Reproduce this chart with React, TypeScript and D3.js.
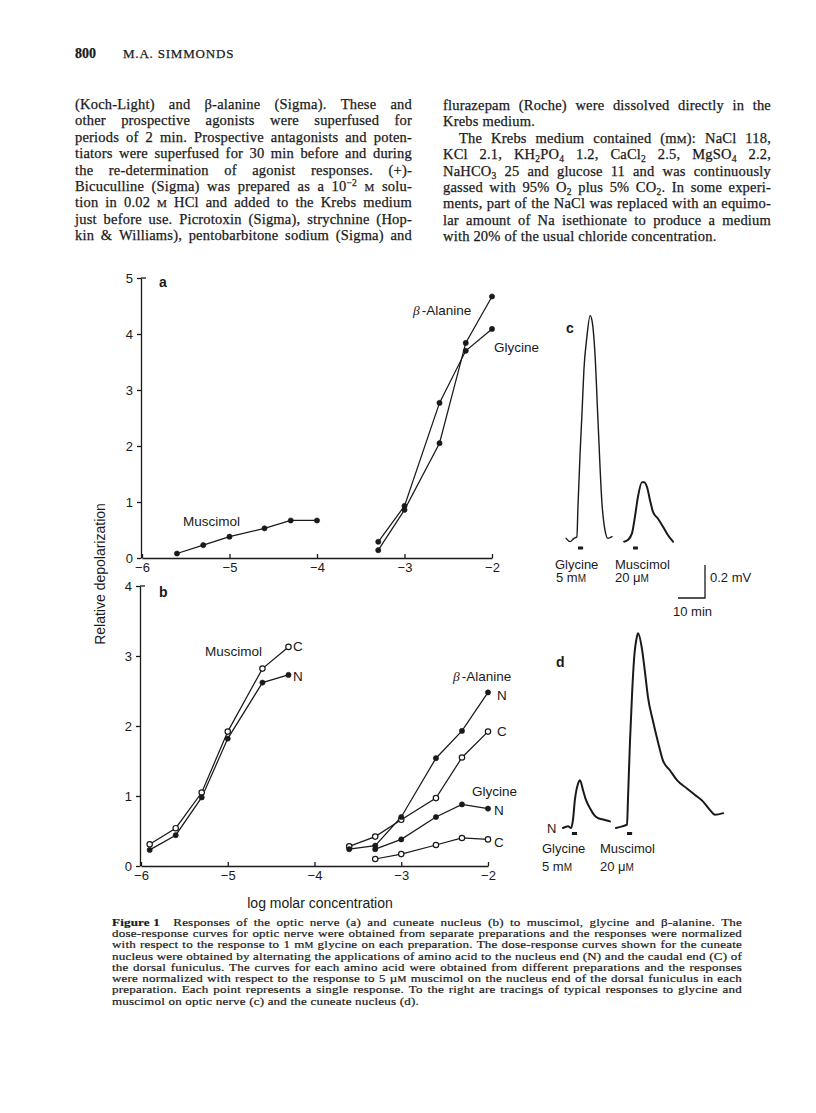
import React, { useRef, useEffect } from 'react';
import * as d3 from 'd3';

const SERIF = '"Liberation Serif", "Times New Roman", serif';
const SANS = '"Liberation Sans", Arial, sans-serif';
const INK = '#1a1a1a';

// ---------- page text ----------
const HEADER_PAGE = '800';
const HEADER_AUTHOR = 'M.A. SIMMONDS';

// markup: _{..} subscript, ^{..} superscript, ~{..} small caps, *{..} bold
const LEFT_LINES = [
  '(Koch-Light) and β-alanine (Sigma). These and',
  'other prospective agonists were superfused for',
  'periods of 2 min. Prospective antagonists and poten-',
  'tiators were superfused for 30 min before and during',
  'the re-determination of agonist responses. (+)-',
  'Bicuculline (Sigma) was prepared as a 10^{−2} ~{M} solu-',
  'tion in 0.02 ~{M} HCl and added to the Krebs medium',
  'just before use. Picrotoxin (Sigma), strychnine (Hop-',
  'kin & Williams), pentobarbitone sodium (Sigma) and',
];

const RIGHT_LINES = [
  'flurazepam (Roche) were dissolved directly in the',
  'Krebs medium.',
  'The Krebs medium contained (m~{M}): NaCl 118,',
  'KCl 2.1, KH_{2}PO_{4} 1.2, CaCl_{2} 2.5, MgSO_{4} 2.2,',
  'NaHCO_{3} 25 and glucose 11 and was continuously',
  'gassed with 95% O_{2} plus 5% CO_{2}. In some experi-',
  'ments, part of the NaCl was replaced with an equimo-',
  'lar amount of Na isethionate to produce a medium',
  'with 20% of the usual chloride concentration.',
];
const RIGHT_RAGGED = [1, 8];
const RIGHT_INDENT: Record<number, number> = { 2: 16 };

const CAPTION_LINES = [
  '*{Figure 1}\u2003Responses of the optic nerve (a) and cuneate nucleus (b) to muscimol, glycine and β-alanine. The',
  'dose-response curves for optic nerve were obtained from separate preparations and the responses were normalized',
  'with respect to the response to 1 m~{M} glycine on each preparation. The dose-response curves shown for the cuneate',
  'nucleus were obtained by alternating the applications of amino acid to the nucleus end (N) and the caudal end (C) of',
  'the dorsal funiculus. The curves for each amino acid were obtained from different preparations and the responses',
  'were normalized with respect to the response to 5 µ~{M} muscimol on the nucleus end of the dorsal funiculus in each',
  'preparation. Each point represents a single response. To the right are tracings of typical responses to glycine and',
  'muscimol on optic nerve (c) and the cuneate nucleus (d).',
];
const CAPTION_RAGGED = [7];

// ---------- panel a: optic nerve (log molar conc. vs relative depolarization) ----------
const A_MUSC_X = [-5.6, -5.3, -5.0, -4.6, -4.3, -4.0];
const A_MUSC_Y = [0.08, 0.23, 0.38, 0.53, 0.67, 0.67];
const A_AMINO_X = [-3.3, -3.0, -2.6, -2.3, -2.0];
const A_GLY_Y = [0.29, 0.93, 2.77, 3.70, 4.09];
const A_BALA_Y = [0.14, 0.86, 2.05, 3.84, 4.67];

// ---------- panel b: cuneate nucleus, N = nucleus end (filled), C = caudal end (open) ----------
const B_MUSC_X = [-5.9, -5.6, -5.3, -5.0, -4.6, -4.3];
const B_MUSC_N = [0.23, 0.44, 0.98, 1.82, 2.62, 2.73];
const B_MUSC_C = [0.31, 0.54, 1.05, 1.92, 2.82, 3.13];
const B_BALA_X = [-3.6, -3.3, -3.0, -2.6, -2.3, -2.0];
const B_BALA_N = [0.24, 0.29, 0.70, 1.54, 1.93, 2.48];
const B_BALA_C = [0.28, 0.42, 0.66, 0.97, 1.55, 1.92];
const B_GLY_X = [-3.3, -3.0, -2.6, -2.3, -2.0];
const B_GLY_N = [0.24, 0.38, 0.70, 0.88, 0.82];
const B_GLY_C = [0.10, 0.17, 0.30, 0.40, 0.38];

const A_TICKS_Y = [0, 1, 2, 3, 4, 5];
const B_TICKS_Y = [0, 1, 2, 3, 4];
const TICKS_X = [-6, -5, -4, -3, -2];

// ---------- panels c, d: recorder tracings [min, mV] ----------
const C_GLY: [number, number][] = [
  [0.4, 0.01], [1.9, -0.01], [3.3, 0.01], [4.4, 0.02], [4.8, 0.2], [5.6, 0.53], [6.3, 0.77],
  [7.0, 1.03], [8.1, 1.23], [9.3, 1.36], [10.0, 1.33], [11.1, 1.13], [12.2, 0.73], [13.7, 0.22],
  [14.8, 0.06], [15.9, 0.01], [17.4, 0.02],
];
const C_MUSC: [number, number][] = [
  [21.9, -0.01], [23.3, 0], [24.8, 0.04], [25.9, 0.14], [27.0, 0.26], [28.5, 0.35], [29.3, 0.35],
  [30.4, 0.32], [31.5, 0.24], [32.6, 0.17], [34.4, 0.13], [36.3, 0.08], [38.1, 0.03], [40.0, -0.01],
];
const D_GLY: [number, number][] = [
  [0, 0], [1.9, 0.01], [3.0, 0], [3.7, 0.05], [4.4, 0.17], [5.6, 0.27], [6.3, 0.29], [7.4, 0.23],
  [8.5, 0.17], [10.0, 0.12], [11.5, 0.08], [13.0, 0.06], [15.2, 0.05], [17.4, 0.04],
];
const D_MUSC: [number, number][] = [
  [19.6, 0], [21.9, 0.01], [23.7, 0.02], [24.1, 0.19], [24.8, 0.52], [25.6, 0.82], [26.3, 1.02],
  [27.4, 1.16], [27.8, 1.18], [29.3, 1.08], [30.4, 0.94], [31.5, 0.79], [33.3, 0.65], [35.2, 0.52],
  [37.0, 0.41], [39.6, 0.35], [42.2, 0.29], [45.9, 0.24], [48.9, 0.2], [51.9, 0.16], [54.4, 0.11],
  [56.3, 0.08], [59.3, 0.09],
];
// drug application bars, [start, end] in min
const C_BARS = [[4.8, 6.7], [25.2, 27.0]];
const D_BARS = [[3.3, 5.2], [23.7, 25.6]];
const SCALE_MV = 0.2;
const SCALE_MIN = 10;

// ---------- justified text ----------
const ctx = document.createElement('canvas').getContext('2d')!;
const TOKEN_RE = /(?:[^ {]|\{[^}]*\})+/g;

type Seg = { text: string; kind: string };

function parseWord(w: string): Seg[] {
  const out: Seg[] = [];
  const re = /([_^~*])\{([^}]*)\}|([^_^~*]+)/g;
  let m: RegExpExecArray | null;
  while ((m = re.exec(w))) {
    if (m[3]) out.push({ text: m[3], kind: 'n' });
    else out.push({ text: m[2], kind: m[1] });
  }
  return out;
}

function segStyle(seg: Seg, size: number) {
  if (seg.kind === '_') return { size: size * 0.66, dy: size * 0.2, weight: 'normal' };
  if (seg.kind === '^') return { size: size * 0.66, dy: -size * 0.33, weight: 'normal' };
  if (seg.kind === '~') return { size: size * 0.76, dy: 0, weight: 'normal' };
  if (seg.kind === '*') return { size, dy: 0, weight: 'bold' };
  return { size, dy: 0, weight: 'normal' };
}

function segWidth(seg: Seg, size: number, ls: number) {
  const st = segStyle(seg, size);
  ctx.font = `${st.weight} ${st.size}px ${SERIF}`;
  return ctx.measureText(seg.text).width + ls * seg.text.length;
}

// one <text> per line, each word placed so the line fills the column
function TextBlock({ lines, x, y, width, lh, size, ls, sx = 1, weight = 0.25, ragged = [], indent = {} }: any) {
  const w = width / sx;
  const x0 = x / sx;
  const rows = lines.map((line: string, li: number) => {
    const words = line.match(TOKEN_RE) || [];
    const parsed = words.map(parseWord);
    const ws = parsed.map(segs => segs.reduce((s, seg) => s + segWidth(seg, size, ls), 0));
    const ind = (indent[li] || 0) / sx;
    const natural = d3.sum(ws);
    const justify = !ragged.includes(li) && words.length > 1;
    ctx.font = `normal ${size}px ${SERIF}`;
    const gap = justify ? (w - ind - natural) / (words.length - 1) : ctx.measureText(' ').width + ls;
    let cx = x0 + ind;
    const by = y + li * lh;
    const spans: any[] = [];
    parsed.forEach((segs, wi) => {
      let px = cx;
      segs.forEach((seg, si) => {
        const st = segStyle(seg, size);
        spans.push(
          <tspan key={`${wi}-${si}`} x={px} y={by + st.dy} fontSize={st.size}
            fontWeight={st.weight}>{seg.text}</tspan>
        );
        px += segWidth(seg, size, ls);
      });
      cx += ws[wi] + gap;
    });
    return <text key={li} fontSize={size} letterSpacing={ls}>{spans}</text>;
  });
  return (
    <g transform={`scale(${sx},1)`} fontFamily={SERIF} fill={INK} stroke={INK} strokeWidth={weight}>
      {rows}
    </g>
  );
}

// ---------- figure ----------
function Figure() {
  const ref = useRef<SVGGElement>(null);

  useEffect(() => {
    const g = d3.select(ref.current);
    g.selectAll('*').remove();

    const xA = d3.scaleLinear().domain([-6, -2]).range([142, 492]);
    const yA = d3.scaleLinear().domain([0, 5]).range([558, 278]);
    const xB = d3.scaleLinear().domain([-6, -2]).range([141, 488]);
    const yB = d3.scaleLinear().domain([0, 4]).range([866, 586]);

    const fmt = d3.format('d');
    const styleAxis = (sel: any) => {
      sel.attr('font-family', SANS).attr('font-size', 13).attr('color', INK);
      sel.selectAll('path, line').attr('stroke-width', 1.3);
    };

    const axes = (x: any, y: any, yTicks: number[]) => {
      g.append('g')
        .attr('transform', `translate(0,${y(0)})`)
        .call(d3.axisBottom(x).tickValues(TICKS_X).tickSize(-4).tickSizeOuter(0).tickPadding(5).tickFormat(fmt))
        .call(styleAxis);
      g.append('g')
        .attr('transform', `translate(${x(-6) - 1},0)`)
        .call(d3.axisLeft(y).tickValues(yTicks).tickSize(4).tickSizeOuter(0).tickPadding(4).tickFormat(fmt))
        .call(styleAxis);
      // small cap at top of the y axis
      const top = y(yTicks[yTicks.length - 1]);
      g.append('line')
        .attr('x1', x(-6) - 1).attr('x2', x(-6) + 4)
        .attr('y1', top).attr('y2', top)
        .attr('stroke', INK).attr('stroke-width', 1.3);
    };
    axes(xA, yA, A_TICKS_Y);
    axes(xB, yB, B_TICKS_Y);

    const series = (xs: number[], ys: number[], x: any, y: any, open: boolean) => {
      const pts = xs.map((v, i) => [x(v), y(ys[i])] as [number, number]);
      g.append('path')
        .attr('d', d3.line()(pts))
        .attr('fill', 'none')
        .attr('stroke', INK)
        .attr('stroke-width', 1.25);
      return () => {
        g.append('g').selectAll('circle')
          .data(pts)
          .enter()
          .append('circle')
          .attr('cx', d => d[0])
          .attr('cy', d => d[1])
          .attr('r', open ? 2.7 : 2.6)
          .attr('fill', open ? '#fff' : INK)
          .attr('stroke', INK)
          .attr('stroke-width', open ? 1.2 : 0.6);
      };
    };

    const dots = [
      series(A_MUSC_X, A_MUSC_Y, xA, yA, false),
      series(A_AMINO_X, A_GLY_Y, xA, yA, false),
      series(A_AMINO_X, A_BALA_Y, xA, yA, false),
      series(B_MUSC_X, B_MUSC_C, xB, yB, true),
      series(B_MUSC_X, B_MUSC_N, xB, yB, false),
      series(B_BALA_X, B_BALA_C, xB, yB, true),
      series(B_BALA_X, B_BALA_N, xB, yB, false),
      series(B_GLY_X, B_GLY_C, xB, yB, true),
      series(B_GLY_X, B_GLY_N, xB, yB, false),
    ];
    dots.forEach(f => f());

    const label = (txt: string, x: number, y: number, opts: any = {}) => {
      const t = g.append('text')
        .attr('x', x).attr('y', y)
        .attr('font-family', SANS)
        .attr('font-size', opts.size || 13.5)
        .attr('font-weight', opts.weight || 'normal')
        .attr('text-anchor', opts.anchor || 'start')
        .attr('fill', INK);
      if (opts.beta) {
        t.append('tspan').attr('font-family', SERIF).attr('font-style', 'italic').text('β');
        t.append('tspan').attr('dx', 2).text(txt);
      } else if (opts.sc) {
        t.append('tspan').text(txt);
        t.append('tspan').attr('font-size', 10).text(opts.sc);
      } else {
        t.text(txt);
      }
      return t;
    };

    // panel letters
    label('a', 159, 287, { weight: 'bold', size: 14 });
    label('b', 159, 597, { weight: 'bold', size: 14 });
    label('c', 566, 333, { weight: 'bold', size: 14 });
    label('d', 556, 667, { weight: 'bold', size: 14 });

    // panel a labels
    label('Muscimol', 183, 526);
    label('-Alanine', 413, 315, { beta: true });
    label('Glycine', 494, 352);

    // panel b labels
    label('Muscimol', 205, 656);
    label('C', 293, 651);
    label('N', 293, 681);
    label('-Alanine', 453, 681, { beta: true });
    label('N', 497, 700);
    label('C', 497, 736);
    label('Glycine', 472, 796);
    label('N', 494, 815);
    label('C', 494, 847);

    // axis titles
    g.append('text')
      .attr('transform', `translate(100,574) rotate(-90)`)
      .attr('text-anchor', 'middle')
      .attr('dominant-baseline', 'central')
      .attr('font-family', SANS).attr('font-size', 14).attr('fill', INK)
      .text('Relative depolarization');
    label('log molar concentration', 320, 908, { size: 14, anchor: 'middle' });

    // ----- tracings -----
    const tC = d3.scaleLinear().domain([0, SCALE_MIN]).range([565, 592]);
    const vC = d3.scaleLinear().domain([0, SCALE_MV]).range([540, 507]);
    const tD = d3.scaleLinear().domain([0, SCALE_MIN]).range([563, 590]);
    const vD = d3.scaleLinear().domain([0, SCALE_MV]).range([828, 795]);

    const trace = (data: [number, number][], t: any, v: any, w: number) => {
      g.append('path')
        .attr('d', d3.line<[number, number]>().x(d => t(d[0])).y(d => v(d[1])).curve(d3.curveMonotoneX)(data))
        .attr('fill', 'none')
        .attr('stroke', INK)
        .attr('stroke-width', w)
        .attr('stroke-linejoin', 'round')
        .attr('stroke-linecap', 'round');
    };
    trace(C_GLY, tC, vC, 1.4);
    trace(C_MUSC, tC, vC, 2);
    trace(D_GLY, tD, vD, 2);
    trace(D_MUSC, tD, vD, 2);

    const bars = (b: number[][], t: any, v: any, off: number) => {
      g.append('g').selectAll('rect')
        .data(b)
        .enter()
        .append('rect')
        .attr('x', d => t(d[0]))
        .attr('width', d => t(d[1]) - t(d[0]))
        .attr('y', v(0) + off)
        .attr('height', 3)
        .attr('fill', INK);
    };
    bars(C_BARS, tC, vC, 6.5);
    bars(D_BARS, tD, vD, 4);

    // scale bar
    const sbX = 705;
    const sbY = 598;
    const hLen = tC(SCALE_MIN) - tC(0);
    const vLen = vC(0) - vC(SCALE_MV);
    g.append('path')
      .attr('d', `M${sbX - hLen},${sbY}H${sbX}V${sbY - vLen}`)
      .attr('fill', 'none').attr('stroke', INK).attr('stroke-width', 1.3);
    label('0.2 mV', 710, 582, { size: 13 });
    label('10 min', 673, 616, { size: 13 });

    // tracing labels
    label('Glycine', 555, 569, { size: 13 });
    label('5 m', 556, 582, { size: 13, sc: 'M' });
    label('Muscimol', 615, 569, { size: 13 });
    label('20 μ', 615, 582, { size: 13, sc: 'M' });
    label('N', 547, 833, { size: 13 });
    label('Glycine', 542, 853, { size: 13 });
    label('5 m', 542, 871, { size: 13, sc: 'M' });
    label('Muscimol', 600, 853, { size: 13 });
    label('20 μ', 600, 871, { size: 13, sc: 'M' });
  }, []);

  return <g ref={ref} />;
}

export default function App() {
  return (
    <svg width={816} height={1113} viewBox="0 0 816 1113"
      style={{ position: 'absolute', left: 0, top: 0, background: '#fff' }}>
      <rect width={816} height={1113} fill="#fff" />
      <g fontFamily={SERIF} fill={INK} stroke={INK} strokeWidth={0.25}>
        <text x={75} y={58} fontSize={14} fontWeight="bold">{HEADER_PAGE}</text>
        <text x={123} y={58} fontSize={13} letterSpacing={0.8}>{HEADER_AUTHOR}</text>
      </g>
      <TextBlock lines={LEFT_LINES} x={75} y={109} width={337} lh={16.4} size={14.5} ls={0.2} />
      <TextBlock lines={RIGHT_LINES} x={443} y={110} width={328} lh={16.4} size={14.5} ls={0.2}
        ragged={RIGHT_RAGGED} indent={RIGHT_INDENT} />
      <Figure />
      <TextBlock lines={CAPTION_LINES} x={112} y={926} width={630} lh={11.25} size={10.2} ls={0.15}
        sx={1.28} weight={0.2} ragged={CAPTION_RAGGED} />
    </svg>
  );
}
